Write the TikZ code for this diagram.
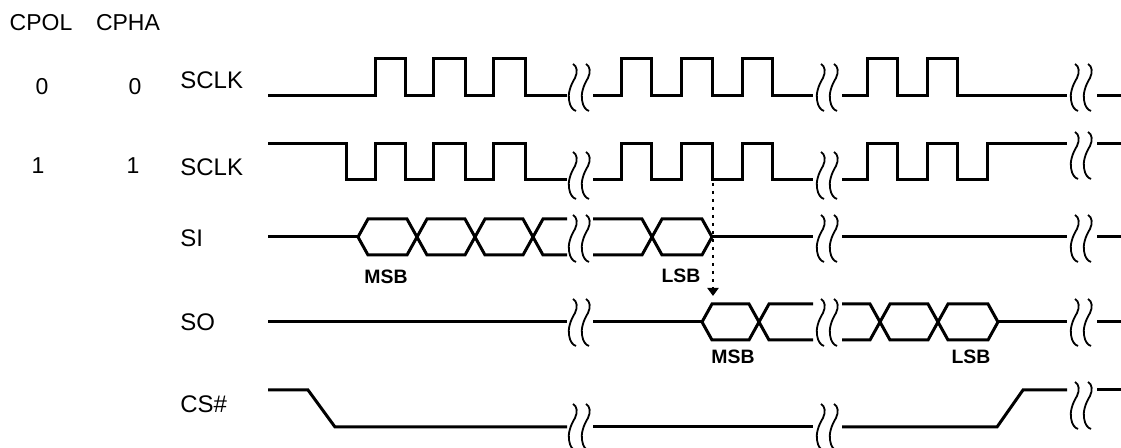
\documentclass[tikz,border=0pt]{standalone}
\usepackage{fontspec}
\setmainfont{Liberation Sans}
\usetikzlibrary{arrows.meta}

\tikzset{
  sig/.style={line width=1.5pt},
  squig/.style={line width=0.9pt},
  dotarr/.style={line width=1.3pt, dash pattern=on 1.4pt off 2.6pt},
  hdr/.style={inner sep=0pt, font=\fontsize{11.5}{13}\selectfont},
  lbl/.style={inner sep=0pt, anchor=west, font=\fontsize{12}{14}\selectfont},
  bitlbl/.style={inner sep=0pt, font=\bfseries\fontsize{9.7}{11}\selectfont}
}

\begin{document}
\begin{tikzpicture}[x=0.5pt, y=-0.5pt, >={Triangle[width=5.5pt,length=4pt]}]
    \useasboundingbox (0,0) rectangle (1121,448);

    % mode columns and signal names
    \node[hdr] (cpol) at (41,23) {CPOL};
    \node[hdr] (cpha) at (128,23) {CPHA};
    \node[hdr] (pol0) at (42,87) {0};
    \node[hdr] (pha0) at (135,87) {0};
    \node[hdr] (pol1) at (38,166) {1};
    \node[hdr] (pha1) at (133,166) {1};
    \node[lbl] (sclka) at (180,80) {SCLK};
    \node[lbl] (sclkb) at (180,167) {SCLK};
    \node[lbl] (si) at (180,238) {SI};
    \node[lbl] (so) at (180,322) {SO};
    \node[lbl] (cs) at (180,404) {CS\#};

    % SCLK, mode 0
    \draw[sig] (268,96) foreach \up/\dn in {375/405,433/465,493/525} { -- (\up,96) -- (\up,59) -- (\dn,59) -- (\dn,96) } -- (567,96);
    \draw[sig] (593,96) foreach \up/\dn in {621/651,681/712,742/772} { -- (\up,96) -- (\up,59) -- (\dn,59) -- (\dn,96) } -- (813,96);
    \draw[sig] (842,96) foreach \up/\dn in {867/897,927/957} { -- (\up,96) -- (\up,59) -- (\dn,59) -- (\dn,96) } -- (1067,96);
    \draw[sig] (1097,96) -- (1121,96);

    % SCLK, mode 3
    \draw[sig] (268,144) -- (346,144) -- (346,180) foreach \up/\dn in {375/405,433/465,493/525} { -- (\up,180) -- (\up,144) -- (\dn,144) -- (\dn,180) } -- (567,180);
    \draw[sig] (593,180) foreach \up/\dn in {621/651,681/712,742/772} { -- (\up,180) -- (\up,144) -- (\dn,144) -- (\dn,180) } -- (813,180);
    \draw[sig] (842,180) foreach \up/\dn in {867/897,927/957} { -- (\up,180) -- (\up,144) -- (\dn,144) -- (\dn,180) } -- (987,180) -- (987,144) -- (1067,144);
    \draw[sig] (1097,144) -- (1121,144);

    % SI
    \draw[sig] (268,237) -- (358,237);
    \foreach \a/\b in {358/417,417/475,475/533,652/712}
        \draw[sig] (\a,237) -- ({\a+10},219) -- ({\b-10},219) -- (\b,237) -- ({\b-10},255) -- ({\a+10},255) -- cycle;
    \draw[sig] (567,219) -- (543,219) -- (533,237) -- (543,255) -- (567,255);
    \draw[sig] (593,219) -- (642,219) -- (652,237) -- (642,255) -- (593,255);
    \draw[sig] (712,237) -- (813,237);
    \draw[sig] (842,237) -- (1067,237);
    \draw[sig] (1097,237) -- (1121,237);

    % SO
    \draw[sig] (268,322) -- (567,322);
    \draw[sig] (593,322) -- (702,322);
    \foreach \a/\b in {702/759,880/938,938/998}
        \draw[sig] (\a,322) -- ({\a+10},304) -- ({\b-10},304) -- (\b,322) -- ({\b-10},340) -- ({\a+10},340) -- cycle;
    \draw[sig] (813,304) -- (769,304) -- (759,322) -- (769,340) -- (813,340);
    \draw[sig] (842,304) -- (870,304) -- (880,322) -- (870,340) -- (842,340);
    \draw[sig] (998,322) -- (1067,322);
    \draw[sig] (1097,322) -- (1121,322);

    % CS#
    \draw[sig] (268,390) -- (308,390) -- (335,427) -- (567,427);
    \draw[sig] (593,427) -- (813,427);
    \draw[sig] (842,427) -- (997,427) -- (1023,390) -- (1067,390);
    \draw[sig] (1097,390) -- (1121,390);

    % time breaks
    \foreach \x/\t in {573/64,821/64,1075/64, 573/152,821/152,1075/132,
                       573/215,821/215,1075/215, 573/299,821/299,1075/299,
                       573/404,821/404,1075/382}
        \foreach \dx in {0,13}
            \draw[squig] ({\x+\dx},\t) .. controls ({\x+\dx+4},{\t+2}) and ({\x+\dx+5},{\t+8}) .. ({\x+\dx+2},{\t+14})
                .. controls ({\x+\dx-3},{\t+22}) and ({\x+\dx-5},{\t+30}) .. ({\x+\dx-4},{\t+36})
                .. controls ({\x+\dx-3},{\t+43}) and ({\x+\dx},{\t+46}) .. ({\x+\dx+3},{\t+47});

    % SO drives out after the last SI bit
    \coordinate (edge) at (713,183);
    \coordinate (sotip) at (713,296);
    \draw[dotarr, ->] (edge) -- (sotip);

    \node[bitlbl] (simsb) at (386,277) {MSB};
    \node[bitlbl] (silsb) at (681,276) {LSB};
    \node[bitlbl] (somsb) at (733,357) {MSB};
    \node[bitlbl] (solsb) at (971,357) {LSB};
\end{tikzpicture}
\end{document}
